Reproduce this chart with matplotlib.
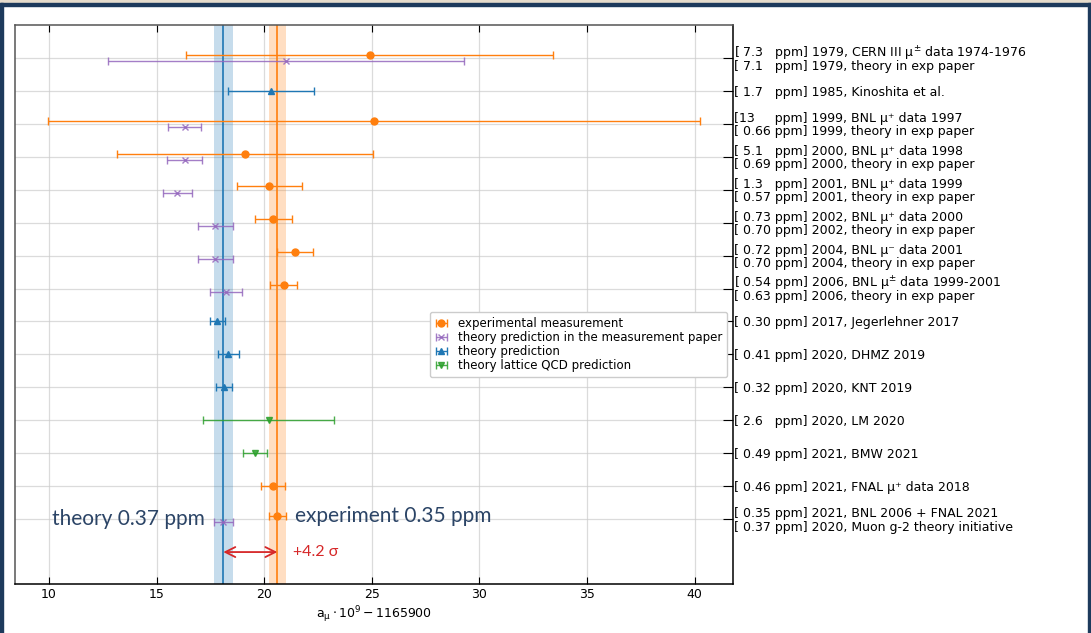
import numpy as np
import matplotlib.pyplot as plt
from matplotlib.patches import Rectangle
from matplotlib.ticker import FixedLocator

# ppm -> units of 1e-9 (a_mu ~ 1165920e-9)
PPM = 1.16592

# experimental measurements (orange)
exp_row = [0, 2, 3, 4, 5, 6, 7, 13, 14]
exp_val = [24.9, 25.1, 19.1, 20.24, 20.43, 21.43, 20.9, 20.41, 20.61]
exp_ppm = [7.3, 13, 5.1, 1.3, 0.73, 0.72, 0.54, 0.46, 0.35]

# theory quoted in the measurement paper (purple)
paper_row = [0, 2, 3, 4, 5, 6, 7, 14]
paper_val = [21.0, 16.3, 16.3, 15.97, 17.73, 17.73, 18.22, 18.10]
paper_ppm = [7.1, 0.66, 0.69, 0.57, 0.70, 0.70, 0.63, 0.37]

# theory predictions (blue)
theory_row = [1, 8, 9, 10]
theory_val = [20.32, 17.83, 18.33, 18.12]
theory_ppm = [1.7, 0.30, 0.41, 0.32]

# lattice QCD (green)
lattice_row = [11, 12]
lattice_val = [20.2, 19.57]
lattice_ppm = [2.6, 0.49]

paired_rows = [0, 2, 3, 4, 5, 6, 7, 14]

# rows with a single entry
single_rows = [1, 8, 9, 10, 11, 12, 13]
single_labels = [
    "[ 1.7   ppm] 1985, Kinoshita et al.",
    "[ 0.30 ppm] 2017, Jegerlehner 2017",
    "[ 0.41 ppm] 2020, DHMZ 2019",
    "[ 0.32 ppm] 2020, KNT 2019",
    "[ 2.6   ppm] 2020, LM 2020",
    "[ 0.49 ppm] 2021, BMW 2021",
    "[ 0.46 ppm] 2021, FNAL μ⁺ data 2018",
]
# rows with measurement + theory pair (upper line, lower line)
pair_upper = [
    "[ 7.3   ppm] 1979, CERN III μ${}^{\\pm}$ data 1974-1976",
    "[13     ppm] 1999, BNL μ⁺ data 1997",
    "[ 5.1   ppm] 2000, BNL μ⁺ data 1998",
    "[ 1.3   ppm] 2001, BNL μ⁺ data 1999",
    "[ 0.73 ppm] 2002, BNL μ⁺ data 2000",
    "[ 0.72 ppm] 2004, BNL μ⁻ data 2001",
    "[ 0.54 ppm] 2006, BNL μ${}^{\\pm}$ data 1999-2001",
    "[ 0.35 ppm] 2021, BNL 2006 + FNAL 2021",
]
pair_lower = [
    "[ 7.1   ppm] 1979, theory in exp paper",
    "[ 0.66 ppm] 1999, theory in exp paper",
    "[ 0.69 ppm] 2000, theory in exp paper",
    "[ 0.57 ppm] 2001, theory in exp paper",
    "[ 0.70 ppm] 2002, theory in exp paper",
    "[ 0.70 ppm] 2004, theory in exp paper",
    "[ 0.63 ppm] 2006, theory in exp paper",
    "[ 0.37 ppm] 2020, Muon g-2 theory initiative",
]

exp_final, exp_final_ppm = 20.61, 0.35
th_final, th_final_ppm = 18.10, 0.37
sigma_text = "+4.2 σ"

C_EXP, C_PAP, C_TH, C_LAT = '#ff7f0e', '#9467bd', '#1f77b4', '#2ca02c'
NAVY = '#2b4466'

def ypos(rows, shift):
    return np.array([r + (shift if r in paired_rows else 0) for r in rows])

fig = plt.figure(figsize=(10.91, 6.33), dpi=100)
ax = fig.add_axes([0.0138, 0.0774, 0.658, 0.883])

# bands for final results
ax.axvspan(th_final - th_final_ppm * PPM, th_final + th_final_ppm * PPM, color=C_TH, alpha=0.25, lw=0, zorder=1)
ax.axvspan(exp_final - exp_final_ppm * PPM, exp_final + exp_final_ppm * PPM, color=C_EXP, alpha=0.25, lw=0, zorder=1)
ax.axvline(th_final, color=C_TH, lw=1.2, zorder=2)
ax.axvline(exp_final, color=C_EXP, lw=1.2, zorder=2)

kw = dict(ls='none', capsize=3, elinewidth=1, capthick=1, zorder=3)
h1 = ax.errorbar(exp_val, ypos(exp_row, -0.1), xerr=np.array(exp_ppm) * PPM, fmt='o', ms=5,
                 color=C_EXP, label='experimental measurement', **kw)
h2 = ax.errorbar(paper_val, ypos(paper_row, 0.1), xerr=np.array(paper_ppm) * PPM, fmt='x', ms=4,
                 color=C_PAP, alpha=0.85, label='theory prediction in the measurement paper', **kw)
h3 = ax.errorbar(theory_val, ypos(theory_row, 0), xerr=np.array(theory_ppm) * PPM, fmt='^', ms=5,
                 color=C_TH, label='theory prediction', **kw)
h4 = ax.errorbar(lattice_val, ypos(lattice_row, 0), xerr=np.array(lattice_ppm) * PPM, fmt='v', ms=5,
                 color=C_LAT, alpha=0.85, label='theory lattice QCD prediction', **kw)

ax.set_ylim(15.97, -1.0)
ax.yaxis.tick_right()

# major ticks: one per row (labels only for single rows)
major_pos = sorted(single_rows + paired_rows)
major_lab = [single_labels[single_rows.index(r)] if r in single_rows else "" for r in major_pos]
ax.set_yticks(major_pos)
ax.set_yticklabels(major_lab)
# minor ticks carry the two lines of the paired rows
minor_pos = [r - 0.21 for r in paired_rows] + [r + 0.2 for r in paired_rows]
ax.yaxis.set_minor_locator(FixedLocator(minor_pos))
ax.set_yticklabels(pair_upper + pair_lower, minor=True)

ax.tick_params(axis='y', which='major', direction='in', length=7, labelsize=9, pad=1, left=False)
ax.tick_params(axis='y', which='minor', direction='in', length=0, labelsize=9, pad=1, left=False)
ax.tick_params(axis='x', direction='in', length=5, labelsize=9, top=True, pad=3)
ax.set_xticks([10, 15, 20, 25, 30, 35, 40])
ax.grid(True, which='major', color='#cccccc', lw=0.9, alpha=0.7)
ax.set_axisbelow(True)
ax.set_xlabel(r"$\mathrm{a_\mu} \cdot 10^9 - 1165900$", fontsize=9, labelpad=2)
for s in ax.spines.values():
    s.set_linewidth(1.1)
ax.spines['top'].set_color('#555555')
ax.spines['left'].set_color('#555555')

ax.legend(handles=[h1, h2, h3, h4], loc='upper right', bbox_to_anchor=(1.0, 0.497), fontsize=8.5,
          handlelength=1.2, labelspacing=0.1, borderpad=0.4, framealpha=1, edgecolor='#cccccc')

# annotations
ax.annotate('', xy=(th_final, 15), xytext=(exp_final, 15),
            arrowprops=dict(arrowstyle='<->', color='#d62728', lw=1.3, mutation_scale=18,
                            shrinkA=0, shrinkB=0), zorder=4)
ax.text(exp_final + 0.75, 15, sigma_text, color='#d62728', fontsize=11.5, va='center', ha='left',
        family=['Lato', 'DejaVu Sans'])
ax.text(th_final - 0.85, 14.0, f"theory {th_final_ppm:.2f} ppm", color=NAVY, fontsize=15, va='center', ha='right',
        family=['Lato', 'DejaVu Sans'])
ax.text(exp_final + 0.8, 13.9, f"experiment {exp_final_ppm:.2f} ppm", color=NAVY, fontsize=15, va='center', ha='left',
        family=['Lato', 'DejaVu Sans'])

# page frame from the screenshot
fig.patches.append(Rectangle((0, 0.996), 1, 0.004, transform=fig.transFigure, color='#e6dccc', zorder=0))
for xy, w, h in [((0, 0), 0.0028, 0.996), ((0.9972, 0), 0.0028, 0.996), ((0, 0.991), 1, 0.005)]:
    fig.patches.append(Rectangle(xy, w, h, transform=fig.transFigure, color='#1d3a5c', zorder=0))

fig.savefig('out.png', dpi=100)
